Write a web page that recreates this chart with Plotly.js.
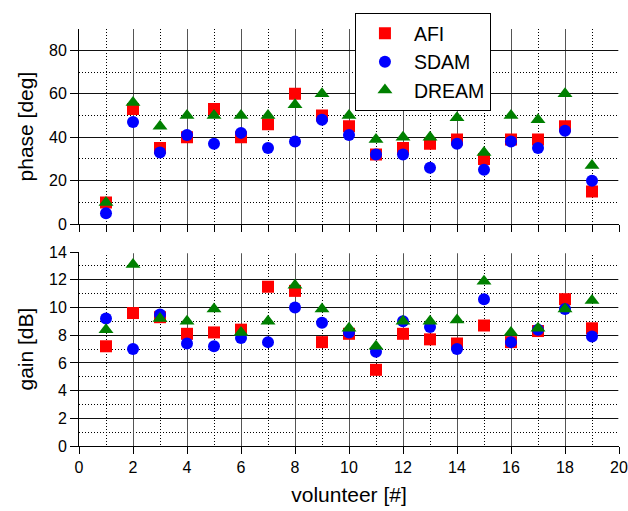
<!DOCTYPE html>
<html>
<head>
<meta charset="utf-8">
<script src="https://cdn.plot.ly/plotly-3.0.1.min.js"></script>
<style>html,body{margin:0;padding:0;background:#fff;}#chart{width:628px;height:511px;}</style>
</head>
<body>
<div id="chart"></div>
<script>
const volunteers = [1,2,3,4,5,6,7,8,9,10,11,12,13,14,15,16,17,18,19];
const seriesNames = ['AFI','SDAM','DREAM'];
const phaseAFI   = [10,53,35,40,53,40,46,60,50,45,32,35,37,39,30,39,39,45,15];
const phaseSDAM  = [5,47,33,41,37,42,35,38,48,41,32,32,26,37,25,38,35,43,20];
const phaseDREAM = [10,56,45,50,50,50,50,55,60,50,39,40,40,49,33,50,48,60,27];
const gainAFI    = [7.2,9.6,9.3,8.1,8.2,8.4,11.5,11.2,7.5,8.1,5.5,8.1,7.7,7.4,8.7,7.5,8.3,10.6,8.5];
const gainSDAM   = [9.2,7.0,9.5,7.4,7.2,7.8,7.5,10.0,8.9,8.2,6.8,9.0,8.6,7.0,10.6,7.5,8.4,9.9,7.9];
const gainDREAM  = [8.4,13.1,9.2,9.0,9.9,8.2,9.0,11.6,9.9,8.5,7.2,9.0,9.0,9.1,11.9,8.2,8.5,9.9,10.5];

const styles = [
  {symbol:'square', color:'#ff0000', size:12},
  {symbol:'circle', color:'#0000ff', size:12},
  {symbol:'triangle-up', color:'#008000', size:13}
];
const phase = [phaseAFI, phaseSDAM, phaseDREAM];
const gain = [gainAFI, gainSDAM, gainDREAM];

const traces = [];
seriesNames.forEach((n,i)=>{
  traces.push({x:volunteers, y:phase[i], name:n, mode:'markers', type:'scatter',
    xaxis:'x', yaxis:'y', legendgroup:n, showlegend:true,
    marker:{symbol:styles[i].symbol, color:styles[i].color, size:styles[i].size, line:{width:0}}});
});
seriesNames.forEach((n,i)=>{
  traces.push({x:volunteers, y:gain[i], name:n, mode:'markers', type:'scatter',
    xaxis:'x2', yaxis:'y2', legendgroup:n, showlegend:false,
    marker:{symbol:styles[i].symbol, color:styles[i].color, size:styles[i].size, line:{width:0}}});
});

const font = {family:'"Liberation Sans", Arial, Helvetica, sans-serif', color:'#000'};
const tickFont = Object.assign({}, font, {size:16});
const titleFont = Object.assign({}, font, {size:21});
const dotDash = '1px,2px';

function xAx(anchor, labels){
  return {
    anchor:anchor, range:[0,20], dtick:2, tick0:0,
    showline:true, linecolor:'#000', linewidth:1, mirror:false,
    ticks:'outside', ticklen:7, tickcolor:'#000', tickwidth:1,
    showticklabels:labels, tickfont:tickFont,
    showgrid:true, gridcolor:'#555', gridwidth:1, zeroline:false,
    minor:{dtick:1, tick0:0, showgrid:true, gridcolor:'#000', gridwidth:1, griddash:dotDash,
      ticks: labels ? '' : 'outside', ticklen:7, tickcolor:'#000'}
  };
}
function yAx(domain, range, dtick, mdtick, anchor){
  return {
    domain:domain, anchor:anchor, range:range, dtick:dtick, tick0:0,
    showline:true, linecolor:'#000', linewidth:1, mirror:false,
    ticks:'outside', ticklen:8, tickcolor:'#000', tickwidth:1,
    tickfont:tickFont, showgrid:true, gridcolor:'#111', gridwidth:1, zeroline:false,
    minor:{dtick:mdtick, tick0:0, showgrid:true, gridcolor:'#000', gridwidth:1, griddash:dotDash, ticks:''}
  };
}

const cover = {type:'line', layer:'above', line:{color:'#fff', width:3}};
const layout = {
  width:628, height:511,
  margin:{l:79, r:9, t:29, b:65},
  paper_bgcolor:'#fff', plot_bgcolor:'#fff',
  font:font,
  showlegend:true,
  legend:{x:0.511, y:1.038, xanchor:'left', yanchor:'top', bgcolor:'#fff',
    bordercolor:'#000', borderwidth:1, font:Object.assign({}, font, {size:19.5}),
    itemwidth:48, tracegroupgap:0},
  xaxis: xAx('y', false),
  xaxis2: Object.assign(xAx('y2', true), {title:{text:'volunteer [#]', font:titleFont, standoff:12}}),
  yaxis: Object.assign(yAx([0.532,1], [0,89.8], 20, 10, 'x'), {title:{text:'phase [deg]', font:titleFont, standoff:9}}),
  yaxis2: Object.assign(yAx([0,0.465], [0,14], 2, 1, 'x2'), {title:{text:'gain [dB]', font:titleFont, standoff:9}}),
  shapes:[
    Object.assign({}, cover, {xref:'x', yref:'y', x0:20.03, x1:20.03, y0:0.6, y1:89.8}),
    Object.assign({}, cover, {xref:'x2', yref:'y2', x0:20.03, x1:20.03, y0:0.1, y1:14}),
    Object.assign({}, cover, {xref:'x2', yref:'y2', x0:0.04, x1:20.1, y0:14.03, y1:14.03})
  ]
};

Plotly.newPlot('chart', traces, layout, {displayModeBar:false, staticPlot:true});
</script>
</body>
</html>
